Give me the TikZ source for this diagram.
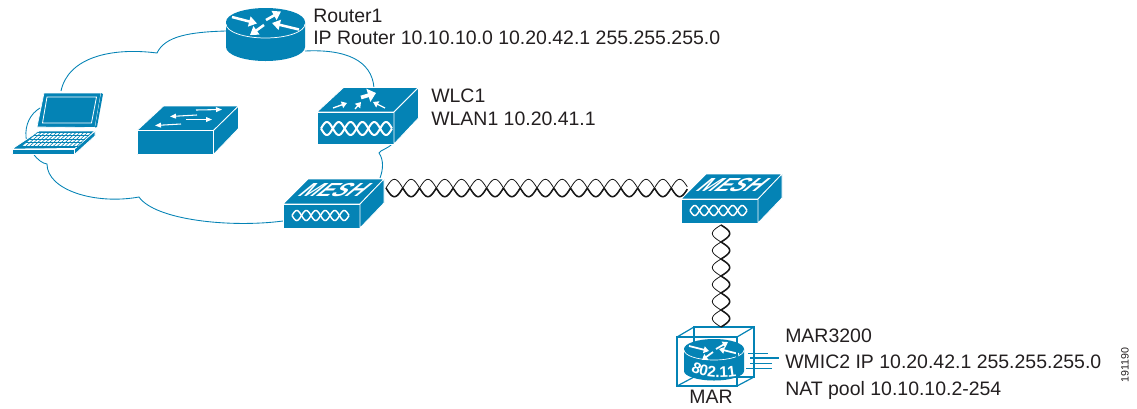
\documentclass[tikz,border=0pt]{standalone}
\usepackage{fontspec}
\setmainfont{Liberation Sans}
\usetikzlibrary{arrows.meta,calc,decorations.text}
\definecolor{ciscoblue}{RGB}{4,131,181}
\definecolor{inkgrey}{RGB}{35,31,32}
\newcommand{\ZZ}{\fontsize{14.6}{17}\selectfont}
% helix link between two named points: from, to, half-periods, amplitude in pt, thick side sign
\newcommand{\helixstrand}[6]{%
  \draw[black!90,line width=#6,line join=round] let \p1=(#1),\p2=(#2),\n1={veclen(\x2-\x1,\y2-\y1)} in
    plot[samples=#3*16+1,domain=0:1,variable=\t]
    ({\x1+\t*(\x2-\x1)-#4*#5*(\y2-\y1)/\n1},{\y1+\t*(\y2-\y1)+#4*#5*(\x2-\x1)/\n1});}
\newcommand{\helixlink}[5]{%
  \helixstrand{#1}{#2}{#3}{#4}{sin(180*#3*\t)}{0.6pt}%
  \helixstrand{#1}{#2}{#3}{#4}{-sin(180*#3*\t)}{0.6pt}%
  \helixstrand{#1}{#2}{#3}{#4}{#5*abs(sin(180*#3*\t))}{1.15pt}}
% white helix printed on a front face: x0, x1, y, half-periods, amplitude (units), width
\newcommand{\minihelix}[6]{%
  \draw[white,line width=#6] plot[samples=97,domain=0:1,variable=\t] ({#1+\t*(#2-#1)},{#3+#5*sin(180*#4*\t)});
  \draw[white,line width=#6] plot[samples=97,domain=0:1,variable=\t] ({#1+\t*(#2-#1)},{#3-#5*sin(180*#4*\t)});}
\tikzset{
  x=0.75pt,y=-0.75pt,
  cloudline/.style={draw=ciscoblue,line width=0.65pt},
  iconface/.style={fill=ciscoblue,draw=white,line width=0.6pt,line join=round},
  whitearrow/.style={draw=white,line width=1.9pt,-{Triangle[length=6pt,width=7.5pt]}},
  thinarrow/.style={draw=white,line width=0.8pt,-{Triangle[length=4.5pt,width=3.6pt]}},
  smallarrow/.style={draw=white,line width=1pt,-{Triangle[length=4pt,width=5pt]}},
  tinyarrow/.style={draw=white,line width=1.3pt,-{Triangle[length=4pt,width=5pt]}},
  label/.style={text=inkgrey,font=\ZZ,align=left,inner sep=0pt},
  mesh/.pic={
    % origin at the front face's top-left corner
    \path[iconface] (0,0) -- (25,-25) -- (101,-25) -- (77,0) -- cycle;
    \path[iconface] (0,0) rectangle (77,24);
    \path[iconface] (77,0) -- (101,-25) -- (101,-1) -- (77,24) -- cycle;
    \node[text=white,font=\fontsize{13.5}{14}\bfseries\itshape\selectfont,xslant=1,inner sep=0pt,xscale=1.2,yscale=1.05] at (52,-14) {MESH};
    \minihelix{9}{66}{11.5}{6}{5}{1.1pt}
    \coordinate (-e) at (103,-16);
    \coordinate (-w) at (7,-11);
    \coordinate (-s) at (40,26);
  }
}
\begin{document}
\begin{tikzpicture}
\useasboundingbox (0,0) rectangle (1137,408);

% cloud
\draw[cloudline] (226,31) .. controls (190,32) and (165,36) .. (157,53)
  .. controls (110,47) and (68,58) .. (61,91);
\draw[cloudline] (40,108) .. controls (30,114) and (25,125) .. (26,137)
  .. controls (27,148) and (38,163) .. (47,164)
  .. controls (47,190) and (95,205) .. (139,197)
  .. controls (155,220) and (230,228) .. (283,221);
\draw[cloudline] (305,51) .. controls (345,49) and (372,60) .. (374,88);
\draw[cloudline] (393,143) .. controls (388,149) and (380,150) .. (379,153)
  .. controls (384,160) and (383,170) .. (380,178);

% laptop
\path[fill=ciscoblue,draw=white,line width=0.5pt,line join=round] (44,93) -- (101,93) -- (95,127.5) -- (37,127) -- cycle;
\path[fill=ciscoblue] (101,93) -- (103,94) -- (97,127) -- (95,127.5) -- cycle;
\draw[white,line width=0.6pt] (47,97) -- (96.5,97) -- (91.5,123) -- (42.5,123) -- cycle;
\path[iconface] (39,131) -- (95,131) -- (75,148.5) -- (12,149) -- cycle;
\path[iconface] (12,149) rectangle (74.5,154.5);
\path[iconface] (74.5,149) -- (95,131) -- (95,136) -- (74.5,154.5) -- cycle;
\fill[white] (38,132) -- (92,132) -- (78,146) -- (22,146) -- cycle;
\foreach \i in {0,...,4}{
  \draw[ciscoblue,line width=0.55pt] ({38-\i*4},{132+\i*3.5}) -- ({92-\i*3.5},{132+\i*3.5});
}
\foreach \i in {0,...,14}{
  \draw[ciscoblue,line width=0.45pt] ({38+\i*3.85},132) -- ({22+\i*3.95},146);
}

% switch
\path[iconface] (137,130.5) -- (163.5,106) -- (238.5,106) -- (213.5,130.5) -- cycle;
\path[iconface] (137,130.5) rectangle (213.5,154.5);
\path[iconface] (213.5,130.5) -- (238.5,106) -- (238.5,128.5) -- (213.5,154.5) -- cycle;
\draw[thinarrow] (196,110) -- (222,109.5);
\draw[thinarrow] (197,115) -- (170,116.5);
\draw[thinarrow] (186,119.5) -- (212,119.5);
\draw[thinarrow] (181,124) -- (155,125.5);

% router 1
\path[fill=ciscoblue] (226,22) -- (226,47) arc[start angle=180,end angle=0,x radius=39.5,y radius=14] -- (305,22) -- cycle;
\fill[ciscoblue] (265.5,22) ellipse[x radius=39.5,y radius=14];
\draw[white,line width=0.55pt] (226,24) arc[start angle=180,end angle=0,x radius=39.5,y radius=14];
\draw[whitearrow] (232,17) -- (257,23.5);
\draw[whitearrow] (266,20) -- (281,11.5);
\draw[whitearrow] (299,29.5) -- (272,23);
\draw[whitearrow] (264,25) -- (250,35);

% WLC
\path[iconface] (317,112) -- (343.5,87.5) -- (418.5,87.5) -- (394,112) -- cycle;
\path[iconface] (317,112) rectangle (394,144);
\path[iconface] (394,112) -- (418.5,87.5) -- (418.5,118) -- (394,144) -- cycle;
\minihelix{321}{392}{128.5}{6}{6.5}{1.5pt}
\draw[white,line width=2.8pt,-{Triangle[length=6pt,width=10pt]}] (361,97.5) -- (376,93);
\draw[smallarrow] (333,108) -- (347,103);
\draw[smallarrow] (355,109) -- (361,102);
\draw[smallarrow] (385,108) -- (373,102);

% mesh access points
\pic (mA) at (283,204) {mesh};
\pic (mB) at (681,199) {mesh};

% MAR
\draw[ciscoblue,line width=0.9pt] (694,327) rectangle (754,377);
\draw[ciscoblue,line width=0.9pt] (677,337) -- (694,327) (737,337) -- (754,327) (677,386) -- (694,377) (737,386) -- (754,377);
\path[fill=ciscoblue] (684,349) -- (684,371) arc[start angle=180,end angle=0,x radius=30,y radius=9.5] -- (744,349) -- cycle;
\fill[ciscoblue] (714,349) ellipse[x radius=30,y radius=10];
\draw[white,line width=0.5pt] (684,350) arc[start angle=180,end angle=0,x radius=30,y radius=10];
\draw[tinyarrow] (689,346) -- (709,351);
\draw[tinyarrow] (716,349) -- (728,342);
\draw[tinyarrow] (739,354) -- (719,349);
\draw[tinyarrow] (713,352) -- (702,360);
\path[postaction={decorate},decoration={text along path,text align=center,
  text={|\color{white}\fontsize{11.5}{12}\bfseries\selectfont|802.11}}]
  (686,368) .. controls (698,378) and (722,380) .. (742,375);
\draw[ciscoblue,line width=0.9pt] (677,337) rectangle (737,386);
\draw[ciscoblue,line width=0.7pt] (748,353) -- (768,353);
\draw[ciscoblue,line width=1pt] (750,358) -- (779,358);
\draw[ciscoblue,line width=0.7pt] (750,363) -- (772,363);
\draw[ciscoblue,line width=0.7pt] (746,368.5) -- (772,368.5);
\coordinate (marTop) at (721,327);

% wireless links
\helixlink{mA-e}{mB-w}{18}{6.5}{-1}
\helixlink{mB-s}{marTop}{6}{6.5}{1}

% labels
\node[label,anchor=base west] (tR1) at (313,22) {Router1};
\node[label,anchor=base west] (tR2) at (313,44) {IP Router 10.10.10.0 10.20.42.1 255.255.255.0};
\node[label,anchor=base west] (tW1) at (431,102) {WLC1};
\node[label,anchor=base west] (tW2) at (431,125) {WLAN1 10.20.41.1};
\node[label,anchor=base west] (tM1) at (785,342) {MAR3200};
\node[label,anchor=base west] (tM2) at (785,368) {WMIC2 IP 10.20.42.1 255.255.255.0};
\node[label,anchor=base west] (tM3) at (785,395) {NAT pool 10.10.10.2-254};
\node[label,anchor=base] (tM4) at (711,403.5) {MAR};
\node[text=inkgrey,font=\fontsize{8}{9}\selectfont,rotate=90,inner sep=0pt,anchor=center] (tId) at (1125,365) {191190};
\end{tikzpicture}
\end{document}
